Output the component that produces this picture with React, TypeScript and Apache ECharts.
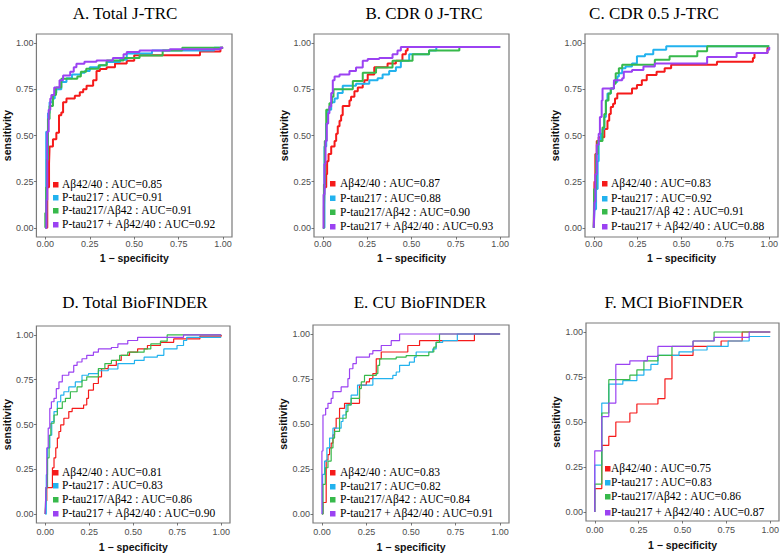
import React, { useEffect, useRef } from "react";
import * as echarts from "echarts";

// ---------- text ----------
const panelTitles = [
  "A. Total J-TRC",
  "B. CDR 0 J-TRC",
  "C. CDR 0.5 J-TRC",
  "D. Total BioFINDER",
  "E. CU BioFINDER",
  "F. MCI BioFINDER",
];
const legendA = ["Aβ42/40 : AUC=0.85", "P-tau217 : AUC=0.91", "P-tau217/Aβ42 : AUC=0.91", "P-tau217 + Aβ42/40 : AUC=0.92"];
const legendB = ["Aβ42/40 : AUC=0.87", "P-tau217 : AUC=0.88", "P-tau217/Aβ42 : AUC=0.90", "P-tau217 + Aβ42/40 : AUC=0.93"];
const legendC = ["Aβ42/40 : AUC=0.83", "P-tau217 : AUC=0.92", "P-tau217/Aβ 42 : AUC=0.91", "P-tau217 + Aβ42/40 : AUC=0.88"];
const legendD = ["Aβ42/40 : AUC=0.81", "P-tau217 : AUC=0.83", "P-tau217/Aβ42 : AUC=0.86", "P-tau217 + Aβ42/40 : AUC=0.90"];
const legendE = ["Aβ42/40 : AUC=0.83", "P-tau217 : AUC=0.82", "P-tau217/Aβ42 : AUC=0.84", "P-tau217 + Aβ42/40 : AUC=0.91"];
const legendF = ["Aβ42/40 : AUC=0.75", "P-tau217 : AUC=0.83", "P-tau217/Aβ42 : AUC=0.86", "P-tau217 + Aβ42/40 : AUC=0.87"];
const tickValues = [0, 0.25, 0.5, 0.75, 1];
const xAxisTitle = "1 − specificity";
const yAxisTitle = "sensitivity";
const curveColors = ["#f51a1a", "#22b2ee", "#37b94b", "#9b42f2"];

// ---------- ROC curves: [1 - specificity, sensitivity] ----------
// A. Total J-TRC
const aAbRatio = [[0,0],[0.011,0.22],[0.021,0.35],[0.024,0.44],[0.043,0.48],[0.062,0.515],[0.077,0.61],[0.09,0.625],[0.1,0.68],[0.119,0.7],[0.166,0.715],[0.194,0.735],[0.213,0.75],[0.232,0.77],[0.269,0.8],[0.288,0.85],[0.307,0.86],[0.345,0.87],[0.392,0.89],[0.458,0.905],[0.5,0.935],[0.87,0.955],[0.985,0.975],[1,0.975]];
const aPtau = [[0,0],[0.005,0.52],[0.015,0.62],[0.024,0.68],[0.04,0.7],[0.053,0.73],[0.062,0.75],[0.09,0.79],[0.119,0.81],[0.15,0.83],[0.2,0.84],[0.222,0.85],[0.25,0.87],[0.307,0.88],[0.345,0.898],[0.42,0.91],[0.458,0.944],[0.6,0.96],[0.95,0.975],[1,0.975]];
const aPtauRatio = [[0,0],[0,0.08],[0.005,0.22],[0.009,0.37],[0.015,0.59],[0.024,0.66],[0.043,0.72],[0.06,0.76],[0.09,0.807],[0.18,0.82],[0.2,0.845],[0.23,0.862],[0.3,0.88],[0.345,0.907],[0.44,0.92],[0.53,0.934],[0.66,0.96],[0.77,0.975],[1,0.975]];
const aCombo = [[0,0],[0.006,0.15],[0.011,0.52],[0.019,0.64],[0.028,0.7],[0.034,0.72],[0.05,0.76],[0.08,0.8],[0.1,0.825],[0.14,0.845],[0.16,0.87],[0.175,0.889],[0.22,0.9],[0.288,0.907],[0.38,0.92],[0.44,0.94],[0.458,0.953],[0.53,0.96],[0.7,0.967],[0.985,0.975],[1,0.975]];
// B. CDR 0 J-TRC
const bAbRatio = [[0,0],[0.006,0.11],[0.009,0.22],[0.019,0.29],[0.024,0.36],[0.032,0.4],[0.047,0.44],[0.066,0.47],[0.075,0.51],[0.084,0.55],[0.094,0.58],[0.103,0.61],[0.112,0.66],[0.15,0.69],[0.159,0.71],[0.178,0.74],[0.197,0.76],[0.225,0.78],[0.234,0.8],[0.253,0.83],[0.29,0.87],[0.365,0.89],[0.412,0.905],[0.449,0.94],[0.468,0.96],[0.478,0.98],[1,0.98]];
const bPtau = [[0,0],[0.009,0.44],[0.019,0.565],[0.028,0.64],[0.047,0.68],[0.066,0.7],[0.084,0.73],[0.112,0.77],[0.187,0.78],[0.262,0.8],[0.309,0.81],[0.337,0.83],[0.374,0.85],[0.412,0.87],[0.44,0.905],[0.487,0.94],[0.599,0.96],[0.64,0.98],[1,0.98]];
const bPtauRatio = [[0,0],[0.006,0.235],[0.011,0.47],[0.019,0.64],[0.037,0.675],[0.051,0.71],[0.06,0.75],[0.169,0.795],[0.225,0.84],[0.3,0.868],[0.393,0.905],[0.506,0.94],[0.599,0.96],[0.77,0.98],[1,0.98]];
const bCombo = [[0,0],[0.004,0.18],[0.009,0.345],[0.015,0.47],[0.022,0.565],[0.03,0.62],[0.037,0.657],[0.047,0.73],[0.056,0.8],[0.066,0.82],[0.094,0.83],[0.15,0.85],[0.187,0.868],[0.225,0.905],[0.253,0.914],[0.318,0.92],[0.393,0.94],[0.421,0.96],[0.44,0.98],[1,0.98]];
// C. CDR 0.5 J-TRC
const cAbRatio = [[0,0],[0.004,0.25],[0.009,0.4],[0.017,0.47],[0.028,0.49],[0.06,0.535],[0.078,0.58],[0.088,0.617],[0.097,0.654],[0.11,0.672],[0.121,0.7],[0.134,0.727],[0.218,0.755],[0.246,0.773],[0.274,0.8],[0.302,0.828],[0.358,0.846],[0.404,0.865],[0.441,0.883],[0.702,0.9],[0.907,0.92],[0.916,0.947],[0.99,0.975],[1,0.975]];
const cPtau = [[0,0],[0.004,0.1],[0.013,0.21],[0.022,0.36],[0.028,0.47],[0.041,0.51],[0.05,0.535],[0.06,0.6],[0.069,0.69],[0.078,0.727],[0.097,0.755],[0.115,0.79],[0.134,0.82],[0.143,0.837],[0.162,0.865],[0.181,0.874],[0.218,0.89],[0.246,0.93],[0.292,0.94],[0.339,0.965],[0.413,0.983],[1,0.983]];
const cPtauRatio = [[0,0],[0.002,0.21],[0.013,0.4],[0.022,0.47],[0.05,0.544],[0.06,0.617],[0.069,0.69],[0.084,0.727],[0.097,0.755],[0.115,0.78],[0.125,0.837],[0.143,0.865],[0.162,0.883],[0.348,0.91],[0.432,0.93],[0.59,0.956],[0.646,0.983],[1,0.983]];
const cCombo = [[0,0],[0.004,0.14],[0.009,0.29],[0.017,0.45],[0.028,0.51],[0.035,0.6],[0.045,0.69],[0.05,0.755],[0.115,0.8],[0.162,0.81],[0.171,0.846],[0.218,0.855],[0.283,0.874],[0.348,0.89],[0.646,0.925],[0.814,0.947],[0.99,0.965],[1,0.98]];
// D. Total BioFINDER
const dAbRatio = [[0,0],[0.004,0.074],[0.009,0.148],[0.041,0.258],[0.05,0.314],[0.06,0.369],[0.069,0.424],[0.078,0.461],[0.088,0.498],[0.106,0.535],[0.134,0.572],[0.153,0.59],[0.218,0.609],[0.236,0.646],[0.246,0.692],[0.274,0.729],[0.302,0.766],[0.32,0.812],[0.358,0.83],[0.404,0.858],[0.432,0.886],[0.479,0.904],[0.525,0.922],[0.581,0.941],[0.655,0.959],[0.73,0.978],[0.879,0.993],[1,1]];
const dPtau = [[0,0],[0.006,0.22],[0.013,0.369],[0.026,0.44],[0.037,0.516],[0.05,0.572],[0.069,0.627],[0.088,0.664],[0.106,0.683],[0.134,0.71],[0.171,0.738],[0.209,0.775],[0.246,0.784],[0.302,0.8],[0.358,0.81],[0.413,0.84],[0.507,0.858],[0.562,0.876],[0.637,0.886],[0.674,0.922],[0.749,0.941],[0.786,0.969],[0.804,0.987],[1,0.987]];
const dPtauRatio = [[0,0],[0.004,0.148],[0.013,0.314],[0.022,0.44],[0.032,0.507],[0.05,0.553],[0.069,0.59],[0.097,0.627],[0.115,0.646],[0.143,0.683],[0.181,0.71],[0.209,0.747],[0.236,0.766],[0.302,0.812],[0.339,0.84],[0.376,0.858],[0.423,0.886],[0.469,0.904],[0.562,0.922],[0.6,0.95],[0.655,0.965],[0.693,1],[1,1]];
const dCombo = [[0,0],[0.004,0.148],[0.009,0.369],[0.017,0.48],[0.026,0.59],[0.035,0.627],[0.05,0.646],[0.063,0.7],[0.078,0.738],[0.097,0.775],[0.134,0.793],[0.162,0.83],[0.181,0.849],[0.209,0.867],[0.236,0.886],[0.274,0.904],[0.302,0.922],[0.376,0.93],[0.413,0.95],[0.469,0.969],[0.525,0.987],[0.786,1],[1,1]];
// E. CU BioFINDER
const eAbRatio = [[0,0],[0.006,0.064],[0.024,0.3],[0.034,0.33],[0.043,0.367],[0.052,0.394],[0.062,0.44],[0.071,0.477],[0.08,0.532],[0.099,0.587],[0.127,0.615],[0.211,0.716],[0.249,0.734],[0.267,0.752],[0.286,0.78],[0.305,0.862],[0.333,0.9],[0.482,0.936],[0.548,0.963],[0.856,1],[1,1]];
const ePtau = [[0,0],[0.004,0.22],[0.015,0.294],[0.028,0.367],[0.043,0.422],[0.062,0.477],[0.108,0.514],[0.118,0.55],[0.136,0.606],[0.164,0.66],[0.2,0.716],[0.286,0.752],[0.398,0.77],[0.417,0.789],[0.436,0.826],[0.491,0.844],[0.519,0.872],[0.529,0.9],[0.622,0.917],[0.641,0.954],[0.678,0.963],[0.76,1],[1,1]];
const ePtauRatio = [[0,0],[0.006,0.165],[0.019,0.257],[0.034,0.294],[0.052,0.367],[0.062,0.422],[0.071,0.459],[0.099,0.532],[0.136,0.569],[0.146,0.606],[0.164,0.642],[0.211,0.697],[0.221,0.734],[0.239,0.77],[0.305,0.78],[0.314,0.826],[0.324,0.862],[0.417,0.872],[0.473,0.88],[0.6,0.9],[0.628,0.927],[0.641,0.954],[0.66,1],[1,1]];
const eCombo = [[0,0],[0,0.35],[0.006,0.55],[0.021,0.587],[0.034,0.615],[0.052,0.642],[0.062,0.68],[0.108,0.706],[0.146,0.752],[0.155,0.807],[0.174,0.835],[0.193,0.872],[0.267,0.89],[0.286,0.908],[0.333,0.936],[0.389,0.963],[0.436,1],[1,1]];
// F. MCI BioFINDER
const fAbRatio = [[0,0],[0,0.13],[0.04,0.37],[0.08,0.42],[0.12,0.5],[0.2,0.55],[0.24,0.6],[0.36,0.63],[0.4,0.74],[0.44,0.87],[0.56,0.92],[0.72,0.95],[0.84,1],[1,1]];
const fPtau = [[0,0],[0,0.26],[0.04,0.605],[0.08,0.71],[0.16,0.73],[0.24,0.76],[0.28,0.79],[0.32,0.82],[0.36,0.87],[0.48,0.89],[0.56,0.9],[0.64,0.92],[0.76,0.95],[0.88,0.975],[1,0.975]];
const fPtauRatio = [[0,0],[0,0.155],[0.04,0.55],[0.08,0.735],[0.2,0.76],[0.24,0.79],[0.28,0.84],[0.36,0.87],[0.44,0.92],[0.56,0.95],[0.68,1],[1,1]];
const fCombo = [[0,0],[0,0.34],[0.04,0.53],[0.08,0.605],[0.12,0.82],[0.2,0.84],[0.3,0.865],[0.36,0.92],[0.56,0.95],[0.68,0.97],[0.88,1],[1,1]];

const panelCurves = [
  [aAbRatio, aPtau, aPtauRatio, aCombo],
  [bAbRatio, bPtau, bPtauRatio, bCombo],
  [cAbRatio, cPtau, cPtauRatio, cCombo],
  [dAbRatio, dPtau, dPtauRatio, dCombo],
  [eAbRatio, ePtau, ePtauRatio, eCombo],
  [fAbRatio, fPtau, fPtauRatio, fCombo],
];
const panelLegends = [legendA, legendB, legendC, legendD, legendE, legendF];

// ---------- layout (pixels) ----------
const layouts = [
  { left: 36, top: 34, width: 196, height: 203, tx: 125, ty: 13, sq: 53, lx: 62, ly: [184, 197, 210, 224], lw: 2, lm: 2, xg: 15 },
  { left: 314, top: 34, width: 195, height: 203, tx: 424, ty: 13, sq: 330, lx: 340, ly: [183, 197.5, 211.5, 226], lw: 2, lm: 2, xg: 15 },
  { left: 585, top: 34, width: 193, height: 203, tx: 654, ty: 13, sq: 602, lx: 611, ly: [183, 198, 211, 226], lw: 2, lm: 2, xg: 15 },
  { left: 35, top: 326, width: 195, height: 197, tx: 135, ty: 302.5, sq: 53, lx: 62, ly: [472, 485, 499, 513], lw: 1.2, lm: 4, xg: 18 },
  { left: 313, top: 325, width: 196, height: 198, tx: 420, ty: 302.5, sq: 330, lx: 340, ly: [472, 486, 499, 513], lw: 1.2, lm: 4, xg: 18 },
  { left: 586, top: 323, width: 193, height: 198, tx: 674, ty: 302.5, sq: 605, lx: 611, ly: [468, 482, 496, 512], lw: 1.2, lm: 4, xg: 18 },
];

const SANS = "'Liberation Sans', Arial, sans-serif";
const SERIF = "'Liberation Serif', 'Times New Roman', serif";

function buildOption() {
  const grid: any[] = [];
  const xAxis: any[] = [];
  const yAxis: any[] = [];
  const series: any[] = [];
  const graphic: any[] = [];
  const tickLabel = (m: number) => ({
    customValues: tickValues,
    formatter: (v: number) => v.toFixed(2),
    fontSize: 9,
    color: "#4d4d4d",
    fontFamily: SANS,
    margin: m,
  });
  const tick = { show: true, length: 2.5, customValues: tickValues, lineStyle: { color: "#555", width: 0.8 } };

  layouts.forEach((L, i) => {
    grid.push({
      left: L.left, top: L.top, width: L.width, height: L.height,
      show: true, borderColor: "#7a7a7a", borderWidth: 1.2, backgroundColor: "#ffffff",
    });
    xAxis.push({
      type: "value", gridIndex: i, min: -0.05, max: 1.05,
      axisLine: { show: false, onZero: false },
      axisTick: tick,
      axisLabel: tickLabel(L.lm),
      splitLine: { show: false },
      name: xAxisTitle, nameLocation: "middle", nameGap: L.xg,
      nameTextStyle: { fontFamily: SANS, fontWeight: "bold", fontSize: 10.5, color: "#111" },
    });
    yAxis.push({
      type: "value", gridIndex: i, min: -0.05, max: 1.05,
      axisLine: { show: false, onZero: false },
      axisTick: tick,
      axisLabel: tickLabel(3),
      splitLine: { show: false },
      name: yAxisTitle, nameLocation: "middle", nameGap: 18.5,
      nameTextStyle: { fontFamily: SANS, fontWeight: "bold", fontSize: 10.5, color: "#111" },
    });
    panelCurves[i].forEach((curve, k) => {
      series.push({
        type: "line", name: panelLegends[i][k], xAxisIndex: i, yAxisIndex: i,
        data: curve, step: "end", symbol: "none", showSymbol: false, silent: true,
        lineStyle: { color: curveColors[k], width: L.lw }, itemStyle: { color: curveColors[k] },
        z: 2 + k,
      });
      graphic.push({
        type: "rect", shape: { x: L.sq, y: L.ly[k] - 2, width: 5.5, height: 5.5 },
        style: { fill: curveColors[k] }, z: 100,
      });
      graphic.push({
        type: "text", z: 100, x: L.lx, y: L.ly[k], scaleX: 0.92,
        style: {
          text: panelLegends[i][k], x: 0, y: 0,
          font: `12.5px ${SERIF}`, fill: "#000",
          align: "left", verticalAlign: "middle", textAlign: "left", textVerticalAlign: "middle",
        },
      });
    });
    graphic.push({
      type: "text", z: 100,
      style: {
        text: panelTitles[i], x: L.tx, y: L.ty,
        font: `17px ${SERIF}`, fill: "#000",
        align: "center", verticalAlign: "middle", textAlign: "center", textVerticalAlign: "middle",
      },
    });
  });

  return { animation: false, backgroundColor: "#ffffff", grid, xAxis, yAxis, series, graphic };
}

export default function App() {
  const ref = useRef<HTMLDivElement>(null);
  useEffect(() => {
    if (!ref.current) return;
    const chart = echarts.init(ref.current, undefined, { renderer: "svg" });
    chart.setOption(buildOption() as any);
    return () => chart.dispose();
  }, []);
  return (
    <div
      ref={ref}
      style={{ position: "fixed", left: 0, top: 0, width: 784, height: 554, background: "#fff" }}
    />
  );
}
